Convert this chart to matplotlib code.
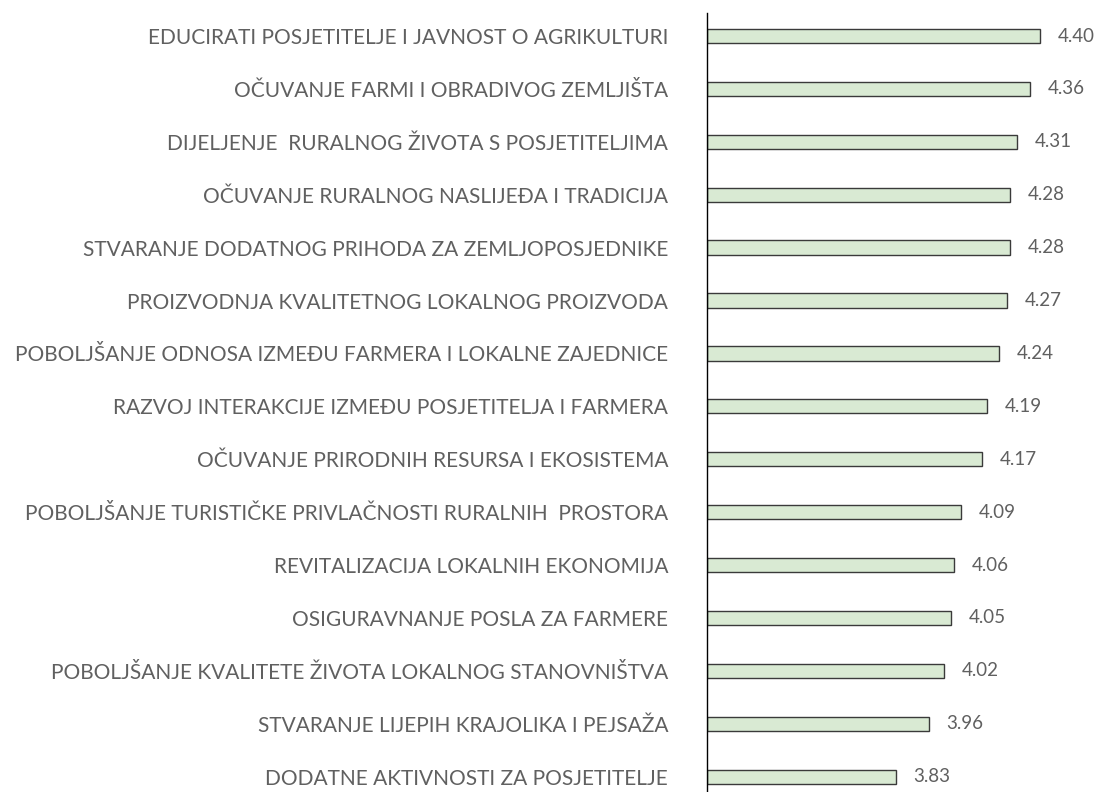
import matplotlib.pyplot as plt

categories = [
    "EDUCIRATI POSJETITELJE I JAVNOST O AGRIKULTURI",
    "OČUVANJE FARMI I OBRADIVOG ZEMLJIŠTA",
    "DIJELJENJE  RURALNOG ŽIVOTA S POSJETITELJIMA",
    "OČUVANJE RURALNOG NASLIJEĐA I TRADICIJA",
    "STVARANJE DODATNOG PRIHODA ZA ZEMLJOPOSJEDNIKE",
    "PROIZVODNJA KVALITETNOG LOKALNOG PROIZVODA",
    "POBOLJŠANJE ODNOSA IZMEĐU FARMERA I LOKALNE ZAJEDNICE",
    "RAZVOJ INTERAKCIJE IZMEĐU POSJETITELJA I FARMERA",
    "OČUVANJE PRIRODNIH RESURSA I EKOSISTEMA",
    "POBOLJŠANJE TURISTIČKE PRIVLAČNOSTI RURALNIH  PROSTORA",
    "REVITALIZACIJA LOKALNIH EKONOMIJA",
    "OSIGURAVNANJE POSLA ZA FARMERE",
    "POBOLJŠANJE KVALITETE ŽIVOTA LOKALNOG STANOVNIŠTVA",
    "STVARANJE LIJEPIH KRAJOLIKA I PEJSAŽA",
    "DODATNE AKTIVNOSTI ZA POSJETITELJE",
]
values = [4.40, 4.36, 4.31, 4.28, 4.28, 4.27, 4.24, 4.19, 4.17, 4.09, 4.06, 4.05, 4.02, 3.96, 3.83]

xmin = 3.085
text_color = "#606060"
font = "Lato"

fig = plt.figure(figsize=(11, 7.92), dpi=100)
ax = fig.add_axes([707 / 1100, 0, 1 - 707 / 1100, 779 / 792])

pos = list(range(len(categories)))
ax.barh(pos, [v - xmin for v in values], left=xmin, height=0.27,
        color="#d9ead3", edgecolor="#3a3a3a", linewidth=1.0)

for p, v in zip(pos, values):
    ax.text(v + 0.07, p, f"{v:.2f}", va="center", ha="left",
            fontsize=13.5, color=text_color, family=font)

ax.set_xlim(xmin, xmin + (1100 - 707) / 253.2)
ax.set_ylim(len(categories) - 1 + 0.29, -0.435)
ax.set_yticks(pos)
ax.set_yticklabels(categories, fontsize=15, color=text_color, family=font)
ax.tick_params(axis="y", length=0, pad=28)
ax.set_xticks([])
for s in ["top", "right", "bottom"]:
    ax.spines[s].set_visible(False)
ax.spines["left"].set_color("#000000")
ax.spines["left"].set_linewidth(1.0)

fig.savefig("out.png", dpi=100)
